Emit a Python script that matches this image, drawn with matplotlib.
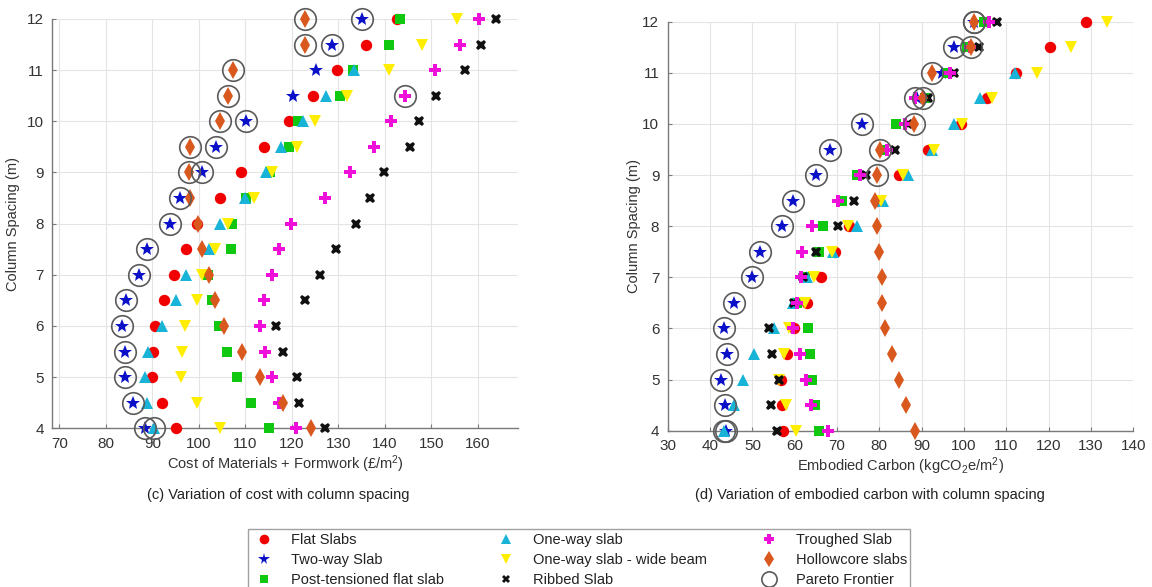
import numpy as np
import matplotlib
matplotlib.use("Agg")
import matplotlib.pyplot as plt

plt.rcParams['font.family'] = ['Liberation Sans', 'DejaVu Sans']
plt.rcParams['mathtext.fontset'] = 'custom'
plt.rcParams['mathtext.rm'] = 'Liberation Sans'
plt.rcParams['mathtext.it'] = 'Liberation Sans:italic'

nan = np.nan
spacing = [4, 4.5, 5, 5.5, 6, 6.5, 7, 7.5, 8, 8.5, 9, 9.5, 10, 10.5, 11, 11.5, 12]

systems = ['Flat Slabs', 'Two-way Slab', 'Post-tensioned flat slab', 'One-way slab',
           'One-way slab - wide beam', 'Ribbed Slab', 'Troughed Slab', 'Hollowcore slabs']

# cost of materials + formwork (GBP/m2)
cost_flat = [95.0, 92.1, 90.0, 90.1, 90.5, 92.5, 94.6, 97.2, 99.6, 104.5, 109.0, 114.0, 119.4, 124.6, 129.6, 136.0, 142.6]
cost_twoway = [88.5, 85.9, 84.0, 84.0, 83.5, 84.4, 87.1, 88.8, 93.7, 95.9, 100.7, 103.6, 110.1, 120.3, 125.2, 128.7, 135.0]
cost_pt = [115.0, 111.1, 108.2, 106.1, 104.3, 102.9, 102.0, 106.9, 107.1, 110.2, 115.2, 119.4, 121.2, 130.3, 133.1, 140.8, 143.3]
cost_oneway = [90.3, 88.8, 88.3, 89.0, 92.1, 95.0, 97.3, 102.2, 104.5, 109.9, 114.4, 117.6, 122.4, 127.3, 133.4, nan, nan]
cost_wide = [104.5, 99.6, 96.2, 96.4, 96.9, 99.5, 100.7, 103.4, 106.3, 111.9, 115.7, 121.0, 125.0, 131.9, 140.8, 147.9, 155.5]
cost_ribbed = [127.0, 121.6, 121.0, 118.1, 116.5, 122.7, 126.0, 129.5, 133.8, 136.7, 139.8, 145.3, 147.3, 151.0, 157.1, 160.7, 163.9]
cost_troughed = [120.9, 117.2, 115.6, 114.2, 113.2, 114.0, 115.8, 117.2, 119.7, 127.1, 132.4, 137.7, 141.3, 144.2, 150.8, 156.1, 160.2]
cost_hollow = [124.1, 118.0, 113.1, 109.2, 105.4, 103.4, 102.2, 100.7, 99.8, 98.0, 97.9, 98.0, 104.5, 106.3, 107.4, 122.7, 122.8]

# embodied carbon (kgCO2e/m2)
co2_flat = [57.3, 56.9, 56.7, 58.3, 59.8, 63.0, 66.2, 69.6, 72.9, 79.5, 84.7, 91.6, 99.3, 105.5, 112.2, 120.4, 128.9]
co2_twoway = [43.7, 43.6, 42.6, 44.0, 43.2, 45.6, 49.8, 51.7, 56.9, 59.7, 65.0, 68.3, 76.0, 89.0, 94.8, 97.7, 102.3]
co2_pt = [65.8, 64.8, 64.0, 63.7, 63.2, 60.5, 62.5, 65.8, 66.8, 71.2, 74.8, 80.8, 84.0, 90.8, 95.9, 100.7, 104.7]
co2_oneway = [43.2, 45.7, 47.9, 50.3, 55.1, 59.6, 62.9, 69.0, 74.7, 80.9, 86.8, 92.5, 97.7, 103.9, 112.0, nan, nan]
co2_wide = [60.2, 57.9, 56.3, 57.5, 58.6, 62.5, 64.6, 68.9, 72.5, 80.5, 85.5, 92.8, 99.6, 106.7, 117.2, 125.2, 133.9]
co2_ribbed = [55.9, 54.4, 56.3, 54.7, 53.9, 59.8, 62.0, 65.0, 70.3, 74.1, 76.9, 83.7, 86.8, 91.6, 97.7, 103.5, 107.7]
co2_troughed = [67.8, 63.8, 62.6, 61.2, 59.5, 60.5, 61.4, 61.8, 64.2, 70.2, 75.5, 81.7, 86.0, 88.4, 96.7, 101.5, 105.9]
co2_hollow = [88.4, 86.3, 84.7, 83.1, 81.4, 80.7, 80.6, 79.9, 79.4, 79.0, 79.4, 80.2, 88.2, 90.4, 92.4, 101.7, 102.3]

# pareto frontier designs: (column spacing, system index)
pareto = [(4, 1), (4, 3), (4.5, 1), (5, 1), (5.5, 1), (6, 1), (6.5, 1), (7, 1), (7.5, 1),
          (8, 1), (8.5, 1), (9, 1), (9, 7), (9.5, 1), (9.5, 7), (10, 1), (10, 7),
          (10.5, 6), (10.5, 7), (11, 7), (11.5, 1), (11.5, 7), (12, 1), (12, 7)]

cost = [cost_flat, cost_twoway, cost_pt, cost_oneway, cost_wide, cost_ribbed, cost_troughed, cost_hollow]
co2 = [co2_flat, co2_twoway, co2_pt, co2_oneway, co2_wide, co2_ribbed, co2_troughed, co2_hollow]

styles = [
    dict(marker='o', color='#f00000', ms=8.2),
    dict(marker='*', color='#0a10c8', ms=10),
    dict(marker='s', color='#10c810', ms=7),
    dict(marker='^', color='#18b4d8', ms=8.5),
    dict(marker='v', color='#ffee00', ms=8.5),
    dict(marker='X', color='#101010', ms=7.5),
    dict(marker='P', color='#ee10d8', ms=8.5),
    dict(marker='d', color='#d9581e', ms=9),
]

W, H = 1152, 587
fig = plt.figure(figsize=(W / 100, H / 100), dpi=100)

def px_axes(x0, y0, x1, y1):
    return fig.add_axes([x0 / W, 1 - y1 / H, (x1 - x0) / W, (y1 - y0) / H])

ax1 = px_axes(52, 19, 518, 428.3)
ax2 = px_axes(667.7, 21.7, 1133.3, 430.7)

handles = []
for ax, data in [(ax1, cost), (ax2, co2)]:
    for i, vals in enumerate(data):
        st = styles[i]
        h, = ax.plot(vals, spacing, linestyle='none', marker=st['marker'], color=st['color'],
                     markersize=st['ms'], markeredgewidth=0, label=systems[i], zorder=3,
                     clip_on=False)
        if ax is ax1:
            handles.append(h)
    px = [data[k][spacing.index(s)] for s, k in pareto]
    py = [s for s, k in pareto]
    hp, = ax.plot(px, py, linestyle='none', marker='o', markersize=15.5, markerfacecolor='none',
                  markeredgecolor='#5a5a5a', markeredgewidth=1.2, label='Pareto Frontier',
                  zorder=4, clip_on=False)
    if ax is ax1:
        handles.append(hp)

for ax in (ax1, ax2):
    ax.set_ylim(4, 12)
    ax.set_yticks(range(4, 13))
    ax.grid(True, color='#e4e4e4', linewidth=0.8)
    ax.set_axisbelow(True)
    for side in ('top', 'right'):
        ax.spines[side].set_visible(False)
    for side in ('left', 'bottom'):
        ax.spines[side].set_color('#7a7a7a')
        ax.spines[side].set_linewidth(1.0)
    ax.tick_params(direction='in', length=3, color='#7a7a7a', labelsize=11,
                   labelcolor='#333333', pad=6)

ax1.set_xlim(68.4, 168.6)
ax1.set_xticks(range(70, 161, 10))
ax2.set_xlim(30, 140)
ax2.set_xticks(range(30, 141, 10))

ax1.set_xlabel('Cost of Materials + Formwork (£/m$^2$)', fontsize=10.5, color='#333333', labelpad=2)
ax2.set_xlabel('Embodied Carbon (kgCO$_2$e/m$^2$)', fontsize=10.5, color='#333333', labelpad=2)
ax1.set_ylabel('Column Spacing (m)', fontsize=10.5, color='#333333', labelpad=5)
ax2.set_ylabel('Column Spacing (m)', fontsize=10.5, color='#333333', labelpad=1)

fig.text(278 / W, 1 - 495 / H, '(c) Variation of cost with column spacing',
         ha='center', va='center', fontsize=10.5, color='#222222')
fig.text(870 / W, 1 - 495 / H, '(d) Variation of embodied carbon with column spacing',
         ha='center', va='center', fontsize=10.5, color='#222222')

leg = fig.legend(handles=handles, ncol=3, loc='upper center',
                 bbox_to_anchor=(579 / W, 1 - 529 / H), fontsize=10.5,
                 frameon=True, fancybox=False, edgecolor='#8a8a8a',
                 handletextpad=0.9, columnspacing=3.4, labelspacing=0.42,
                 borderpad=0.25, handlelength=1.8, borderaxespad=0)
leg.get_frame().set_linewidth(1.0)
for t in leg.get_texts():
    t.set_color('#222222')
for lh in leg.legend_handles[:-1]:
    lh.set_markersize(lh.get_markersize() * 0.85)
leg.legend_handles[-1].set_markersize(11)

fig.savefig('out.png', dpi=100)
